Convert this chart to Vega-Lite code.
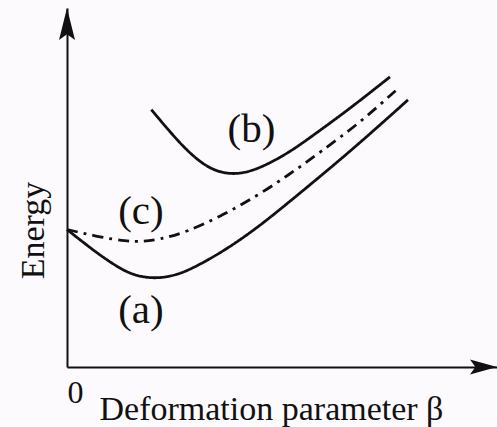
{
  "$schema": "https://vega.github.io/schema/vega-lite/v6.json",
  "autosize": {"type": "none"},
  "padding": {"left": 67, "top": 8, "right": 0, "bottom": 60},
  "width": 430,
  "height": 359,
  "background": "#fdfafd",
  "config": {
    "view": {"stroke": null},
    "font": "Liberation Serif",
    "axis": {"domainColor": "#111111", "domainWidth": 2, "grid": false, "ticks": false}
  },
  "datasets": {
    "curves": [
      {"curve": "a", "beta": 0.0, "energy": 3.83},
      {"curve": "a", "beta": 0.58, "energy": 3.28},
      {"curve": "a", "beta": 0.98, "energy": 2.94},
      {"curve": "a", "beta": 1.38, "energy": 2.64},
      {"curve": "a", "beta": 1.75, "energy": 2.5},
      {"curve": "a", "beta": 2.14, "energy": 2.47},
      {"curve": "a", "beta": 2.54, "energy": 2.56},
      {"curve": "a", "beta": 2.91, "energy": 2.74},
      {"curve": "a", "beta": 3.61, "energy": 3.2},
      {"curve": "a", "beta": 4.41, "energy": 3.86},
      {"curve": "a", "beta": 5.17, "energy": 4.6},
      {"curve": "a", "beta": 5.94, "energy": 5.36},
      {"curve": "a", "beta": 6.81, "energy": 6.24},
      {"curve": "a", "beta": 7.93, "energy": 7.44},
      {"curve": "c", "beta": 0.0, "energy": 3.83},
      {"curve": "c", "beta": 0.75, "energy": 3.62},
      {"curve": "c", "beta": 1.38, "energy": 3.5},
      {"curve": "c", "beta": 1.75, "energy": 3.49},
      {"curve": "c", "beta": 2.14, "energy": 3.55},
      {"curve": "c", "beta": 2.77, "energy": 3.75},
      {"curve": "c", "beta": 3.61, "energy": 4.22},
      {"curve": "c", "beta": 4.41, "energy": 4.76},
      {"curve": "c", "beta": 5.17, "energy": 5.36},
      {"curve": "c", "beta": 5.87, "energy": 5.97},
      {"curve": "c", "beta": 6.81, "energy": 6.8},
      {"curve": "c", "beta": 7.69, "energy": 7.75},
      {"curve": "b", "beta": 1.96, "energy": 7.17},
      {"curve": "b", "beta": 2.45, "energy": 6.47},
      {"curve": "b", "beta": 2.84, "energy": 5.97},
      {"curve": "b", "beta": 3.24, "energy": 5.58},
      {"curve": "b", "beta": 3.61, "energy": 5.4},
      {"curve": "b", "beta": 4.01, "energy": 5.37},
      {"curve": "b", "beta": 4.48, "energy": 5.53},
      {"curve": "b", "beta": 5.17, "energy": 5.97},
      {"curve": "b", "beta": 5.87, "energy": 6.58},
      {"curve": "b", "beta": 6.57, "energy": 7.19},
      {"curve": "b", "beta": 7.51, "energy": 8.08}
    ],
    "labels": [
      {"text": "(a)", "beta": 1.72, "energy": 1.55},
      {"text": "(b)", "beta": 4.29, "energy": 6.61},
      {"text": "(c)", "beta": 1.72, "energy": 4.31}
    ],
    "arrowX": [{"beta": 10, "energy": 0}],
    "arrowY": [{"beta": 0, "energy": 10}]
  },
  "layer": [
    {
      "data": {"name": "curves"},
      "mark": {"type": "line", "strokeWidth": 2.8, "color": "#111111", "interpolate": "basis"},
      "encoding": {
        "x": {
          "field": "beta", "type": "quantitative",
          "scale": {"domain": [0, 10], "nice": false, "zero": false},
          "axis": {
            "values": [0], "labelFontSize": 32, "labelColor": "#111111", "labelPadding": 10,
            "title": "Deformation parameter  β", "titleFontSize": 34, "titleFontWeight": "normal",
            "titleColor": "#111111", "titleAnchor": "start", "titleAlign": "left",
            "titleX": 32, "titleY": 52, "titleBaseline": "alphabetic"
          }
        },
        "y": {
          "field": "energy", "type": "quantitative",
          "scale": {"domain": [0, 10], "nice": false, "zero": false},
          "axis": {
            "labels": false, "title": "Energy", "titleFontSize": 34, "titleFontWeight": "normal",
            "titleColor": "#111111", "titleX": -24, "titleY": 222, "titleBaseline": "alphabetic", "titleAlign": "center"
          }
        },
        "detail": {"field": "curve"},
        "strokeDash": {
          "field": "curve", "type": "nominal",
          "scale": {"domain": ["a", "b", "c"], "range": [[1, 0], [1, 0], [11, 6, 3, 6]]},
          "legend": null
        }
      }
    },
    {
      "data": {"name": "labels"},
      "mark": {"type": "text", "fontSize": 41, "font": "Liberation Serif", "color": "#111111", "align": "center", "baseline": "middle"},
      "encoding": {
        "x": {"field": "beta", "type": "quantitative"},
        "y": {"field": "energy", "type": "quantitative"},
        "text": {"field": "text"}
      }
    },
    {
      "data": {"name": "arrowX"},
      "mark": {"type": "point", "shape": "M0,0 L-2,-0.56 L-1.6,0 L-2,0.56 Z", "size": 729, "filled": true, "color": "#111111", "opacity": 1},
      "encoding": {
        "x": {"field": "beta", "type": "quantitative"},
        "y": {"field": "energy", "type": "quantitative"}
      }
    },
    {
      "data": {"name": "arrowY"},
      "mark": {"type": "point", "shape": "M0,0 L-0.5,2 L0,1.64 L0.5,2 Z", "size": 1024, "filled": true, "color": "#111111", "opacity": 1},
      "encoding": {
        "x": {"field": "beta", "type": "quantitative"},
        "y": {"field": "energy", "type": "quantitative"}
      }
    }
  ]
}
